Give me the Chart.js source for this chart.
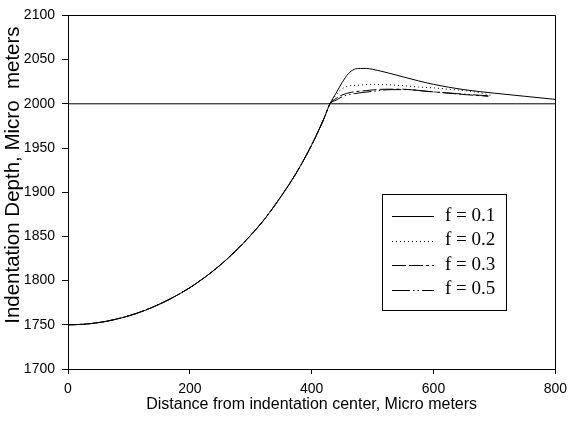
<!DOCTYPE html>
<html>
<head>
<meta charset="utf-8">
<script src="https://cdn.jsdelivr.net/npm/chart.js@4"></script>
<style>
  html, body { margin: 0; padding: 0; background: #fff; }
  #wrap { width: 574px; height: 428px; }
</style>
</head>
<body>
<div id="wrap"><canvas id="chart"></canvas></div>
<script>
// loading branch, all four f values lie on top of each other up to the 2000 line
const riseX = [0, 25, 50, 75, 100, 125, 150, 175, 200, 225, 250, 275, 300, 325, 350, 375, 400, 420, 430];
const riseY = [1750, 1750.6, 1752.5, 1755.7, 1760.2, 1766, 1773.3, 1781.9, 1792, 1803.9, 1817.6, 1833.4, 1851.3, 1871.6, 1895.5, 1922, 1953.5, 1983, 2000];

// pile-up part past the contact edge, one per friction value
const f01X = [440, 450, 460, 470, 480, 490, 500, 525, 550, 575, 600, 650, 700, 750, 800];
const f01Y = [2012, 2024, 2034, 2039, 2040, 2040, 2039, 2035, 2030.5, 2026, 2022, 2016, 2012, 2008.5, 2005];

const f02X = [440, 450, 460, 475, 500, 525, 550, 575, 600, 625, 650, 675, 695];
const f02Y = [2010, 2017, 2020, 2021, 2022, 2021.5, 2020.5, 2019, 2018, 2016.5, 2015, 2012.5, 2009.5];

const f03X = [440, 450, 465, 490, 520, 550, 575, 600, 625, 650, 690];
const f03Y = [2006, 2010, 2013, 2015, 2016.5, 2016.5, 2015, 2013.5, 2012, 2010.5, 2008.5];

const f05X = [440, 450, 470, 500, 530, 560, 590, 620, 650, 690];
const f05Y = [2004, 2008, 2011.5, 2014, 2016, 2016, 2014, 2012.5, 2011, 2009];

// flat reference surface
const surfX = [0, 800];
const surfY = [2000, 2000];

const labels = ['f = 0.1', 'f = 0.2', 'f = 0.3', 'f = 0.5'];

const xTitle = 'Distance from indentation center, Micro meters';
// leading spaces push the rotated title up a little, as in the original
const yTitle = '      Indentation Depth, Micro  meters';

function toPoints(xs, ys) {
  return xs.map((x, i) => ({ x: x, y: ys[i] }));
}

function curve(tailX, tailY) {
  return toPoints(riseX, riseY).concat(toPoints(tailX, tailY));
}

function series(label, points, dash) {
  return {
    label: label,
    data: points,
    borderColor: '#000',
    borderWidth: 1,
    borderDash: dash,
    pointRadius: 0,
    fill: false,
    cubicInterpolationMode: 'monotone'
  };
}

// draws the top and right edges of the plot frame
const frame = {
  id: 'frame',
  afterDraw(chart) {
    const a = chart.chartArea;
    const ctx = chart.ctx;
    ctx.save();
    ctx.strokeStyle = '#000';
    ctx.lineWidth = 1;
    ctx.beginPath();
    ctx.moveTo(Math.round(a.left) + 0.5, Math.round(a.top) + 0.5);
    ctx.lineTo(Math.round(a.right) + 0.5, Math.round(a.top) + 0.5);
    ctx.lineTo(Math.round(a.right) + 0.5, Math.round(a.bottom) + 0.5);
    ctx.stroke();
    ctx.restore();
  }
};

// boxed legend inside the plot, like the original
const legendBox = {
  id: 'legendBox',
  afterDraw(chart, args, opts) {
    const ctx = chart.ctx;
    ctx.save();
    ctx.strokeStyle = '#000';
    ctx.lineWidth = 1;
    ctx.strokeRect(opts.x + 0.5, opts.y + 0.5, opts.w, opts.h);
    ctx.font = opts.font;
    ctx.fillStyle = '#000';
    ctx.textBaseline = 'middle';
    let row = 0;
    chart.data.datasets.forEach(ds => {
      if (ds.inLegend === false) return;
      const cy = opts.firstRow + row * opts.rowGap;
      ctx.setLineDash(ds.borderDash || []);
      ctx.lineWidth = ds.borderWidth;
      ctx.beginPath();
      ctx.moveTo(opts.lineX0, Math.round(cy) + 0.5);
      ctx.lineTo(opts.lineX1, Math.round(cy) + 0.5);
      ctx.stroke();
      ctx.setLineDash([]);
      ctx.fillText(ds.label, opts.textX, cy);
      row++;
    });
    ctx.restore();
  }
};

const surface = series('surface', toPoints(surfX, surfY), []);
surface.inLegend = false;

const tickFont = { family: 'Liberation Sans, Arial, sans-serif', size: 14 };
const plain = v => String(v);

new Chart(document.getElementById('chart'), {
  type: 'line',
  data: {
    datasets: [
      series(labels[0], curve(f01X, f01Y), []),
      series(labels[1], curve(f02X, f02Y), [1, 3]),
      series(labels[2], curve(f03X, f03Y), [14, 3, 14, 3, 3, 3]),
      series(labels[3], curve(f05X, f05Y), [18, 3, 1.5, 3, 1.5, 3]),
      surface
    ]
  },
  options: {
    responsive: true,
    maintainAspectRatio: false,
    animation: false,
    layout: { padding: { top: 15, right: 11, bottom: 0, left: 0 } },
    plugins: {
      legend: { display: false },
      tooltip: { enabled: false },
      legendBox: {
        x: 382, y: 194, w: 124, h: 116,
        firstRow: 216, rowGap: 24.5,
        lineX0: 392, lineX1: 434, textX: 445,
        font: '19px "Liberation Serif", "Times New Roman", serif'
      }
    },
    scales: {
      x: {
        type: 'linear',
        min: 0,
        max: 800,
        afterFit: s => { s.height = 59; },
        ticks: { stepSize: 200, color: '#000', font: tickFont, padding: 7, maxRotation: 0, callback: plain },
        grid: { drawOnChartArea: false, tickLength: 5, tickColor: '#000' },
        border: { color: '#000', width: 1 },
        title: {
          display: true,
          text: xTitle,
          color: '#000',
          font: { family: 'Liberation Sans, Arial, sans-serif', size: 16 },
          padding: { top: 0, bottom: 14 }
        }
      },
      y: {
        min: 1700,
        max: 2100,
        afterFit: s => { s.width = 68; },
        ticks: { stepSize: 50, color: '#000', font: tickFont, padding: 7, callback: plain },
        grid: { drawOnChartArea: false, tickLength: 6, tickColor: '#000' },
        border: { color: '#000', width: 1 },
        title: {
          display: true,
          text: yTitle,
          color: '#000',
          font: { family: 'Liberation Sans, Arial, sans-serif', size: 20.5 },
          padding: { top: 1, bottom: 0 }
        }
      }
    }
  },
  plugins: [frame, legendBox]
});
</script>
</body>
</html>
